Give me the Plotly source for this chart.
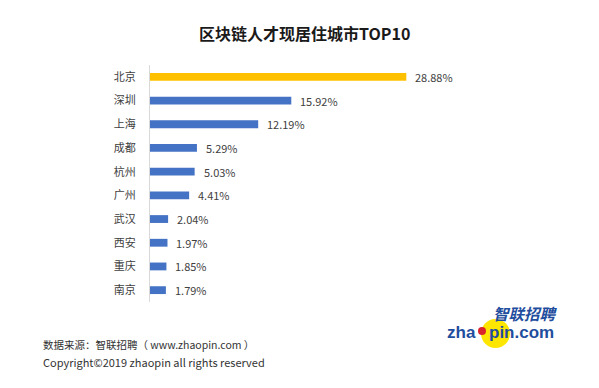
import plotly.graph_objects as go

cities = ["北京", "深圳", "上海", "成都", "杭州", "广州", "武汉", "西安", "重庆", "南京"]
shares = [28.88, 15.92, 12.19, 5.29, 5.03, 4.41, 2.04, 1.97, 1.85, 1.79]
title_text = "区块链人才现居住城市TOP10"
source_text = "数据来源：智联招聘（ www.zhaopin.com ）"
copyright_text = "Copyright©2019 zhaopin all rights reserved"

W, H = 599, 388
OFF = 8  # default page body margin
L, R, T, B = 150, 94, 65, 86
PW, PH = W - L - R, H - T - B


def px(x):
    return (x - L) / PW


def py(y):
    return (H - B - y) / PH


colors = ["#FFC000" if i == 0 else "#4472C4" for i in range(len(cities))]

fig = go.Figure(go.Bar(
    x=shares, y=cities, orientation="h",
    marker=dict(color=colors, line=dict(width=0)),
    width=0.33, hoverinfo="skip",
))

anns = []
for c, v in zip(cities, shares):
    anns.append(dict(x=v, y=c, xref="x", yref="y", text=f"{v:.2f}%",
                     showarrow=False, xanchor="left", yanchor="middle", xshift=7,
                     font=dict(family="Noto Sans CJK SC, Open Sans", size=11, color="#404040")))

anns.append(dict(x=px(304), y=py(33), xref="paper", yref="paper", text=f"<b>{title_text}</b>",
                 showarrow=False, xanchor="center", yanchor="middle",
                 font=dict(family="Noto Sans CJK SC", size=16, color="#1a1a1a")))
anns.append(dict(x=px(41), y=py(344), xref="paper", yref="paper", text=source_text,
                 showarrow=False, xanchor="left", yanchor="middle",
                 font=dict(family="Noto Sans CJK SC", size=10.5, color="#333333")))
anns.append(dict(x=px(41), y=py(362), xref="paper", yref="paper", text=copyright_text,
                 showarrow=False, xanchor="left", yanchor="middle",
                 font=dict(family="Noto Sans CJK SC", size=11, color="#333333")))

# logo texts
logo_blue = "#1F4E9E"
anns.append(dict(x=px(525), y=py(313), xref="paper", yref="paper", text="<b><i>智联招聘</i></b>",
                 showarrow=False, xanchor="center", yanchor="middle",
                 font=dict(family="Noto Sans CJK SC", size=15.5, color=logo_blue)))
anns.append(dict(x=px(478), y=py(332), xref="paper", yref="paper", text="<b>zha</b>",
                 showarrow=False, xanchor="right", yanchor="middle",
                 font=dict(family="Liberation Sans", size=17, color=logo_blue)))
anns.append(dict(x=px(487), y=py(332), xref="paper", yref="paper", text="<b>pin.com</b>",
                 showarrow=False, xanchor="left", yanchor="middle",
                 font=dict(family="Liberation Sans", size=17, color=logo_blue)))

shapes = [
    dict(type="circle", xref="paper", yref="paper", layer="below",
         x0=px(481), x1=px(510), y0=py(348), y1=py(319),
         fillcolor="#FFE600", line=dict(width=0)),
    dict(type="circle", xref="paper", yref="paper", layer="above",
         x0=px(478), x1=px(486), y0=py(335), y1=py(327),
         fillcolor="#D9232D", line=dict(width=0)),
]

fig.update_layout(
    width=W - OFF, height=H - OFF,
    margin=dict(l=L - OFF, r=R, t=T - OFF, b=B),
    paper_bgcolor="white", plot_bgcolor="white",
    showlegend=False,
    annotations=anns, shapes=shapes,
    xaxis=dict(range=[0, 40], visible=False, fixedrange=True),
    yaxis=dict(
        autorange=False, range=[9.5, -0.5],
        categoryorder="array", categoryarray=cities,
        showline=True, linecolor="#D9D9D9", linewidth=1,
        showgrid=False, zeroline=False,
        ticks="", ticklabelstandoff=11,
        tickfont=dict(family="Noto Sans CJK SC", size=11, color="#404040"),
    ),
)

fig.write_html("out.html")
